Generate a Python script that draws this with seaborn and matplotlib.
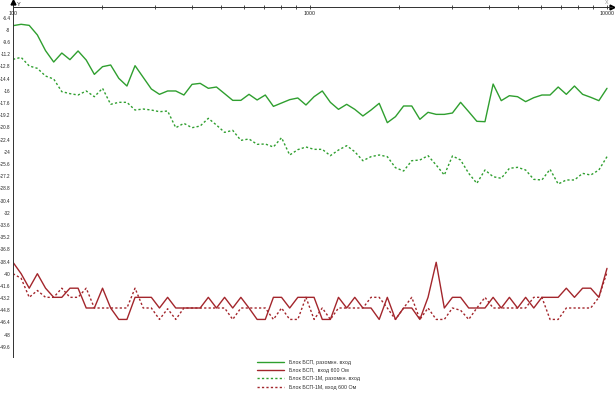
import numpy as np
import pandas as pd
import matplotlib
matplotlib.use('Agg')
import matplotlib.pyplot as plt
import seaborn as sns

# частоты, Гц
freq = [100, 106.5, 113.4, 120.8, 128.7, 137.1, 146.0, 155.5, 165.6, 176.4,
        187.9, 200.2, 213.2, 227.1, 241.9, 257.6, 274.4, 292.3, 311.3, 331.6,
        353.2, 376.2, 400.7, 426.8, 454.6, 484.2, 515.7, 549.3, 585.1, 623.2,
        663.7, 707.0, 753.0, 802.0, 854.3, 909.9, 969.2, 1032, 1100, 1171,
        1247, 1329, 1415, 1507, 1605, 1710, 1821, 1940, 2066, 2201,
        2344, 2497, 2660, 2833, 3017, 3214, 3423, 3646, 3883, 4136,
        4405, 4692, 4998, 5321, 5668, 6037, 6430, 6849, 7295, 7770,
        8276, 8815, 9389, 10000]

bsp_open = [-7.45, -7.27, -7.41, -8.67, -10.73, -12.22, -11.04, -11.91, -10.77, -11.96,
            -13.84, -12.83, -12.61, -14.36, -15.37, -12.70, -14.23, -15.76, -16.46, -16.02,
            -16.02, -16.55, -15.15, -15.02, -15.67, -15.50, -16.37, -17.25, -17.25, -16.46,
            -17.20, -16.55, -18.04, -17.60, -17.16, -16.94, -17.86, -16.77, -16.02, -17.51,
            -18.43, -17.77, -18.43, -19.30, -18.52, -17.64, -20.18, -19.39, -17.99, -17.99,
            -19.74, -18.82, -19.09, -19.09, -18.91, -17.51, -18.74, -20.00, -20.05, -15.11,
            -17.29, -16.64, -16.77, -17.42, -16.90, -16.55, -16.55, -15.50, -16.46, -15.37,
            -16.46, -16.85, -17.29, -15.67]

bsp_600 = [-38.5, -40.0, -41.9, -40.0, -41.9, -43.1, -43.1, -41.9, -41.9, -44.5,
           -44.5, -41.9, -44.5, -46.0, -46.0, -43.1, -43.1, -43.1, -44.5, -43.1,
           -44.5, -44.5, -44.5, -44.5, -43.1, -44.5, -43.1, -44.5, -43.1, -44.5,
           -46.0, -46.0, -43.1, -43.1, -44.5, -43.1, -43.1, -43.1, -46.0, -46.0,
           -43.1, -44.5, -43.1, -44.5, -44.5, -46.0, -43.1, -46.0, -44.5, -44.5,
           -46.0, -43.1, -38.5, -44.5, -43.1, -43.1, -44.5, -44.5, -44.5, -43.1,
           -44.5, -43.1, -44.5, -43.1, -44.5, -43.1, -43.1, -43.1, -41.9, -43.1,
           -41.9, -41.9, -43.1, -39.3]

bsp1m_open = [-11.87, -11.61, -12.74, -13.05, -14.06, -14.45, -16.11, -16.37, -16.55, -16.02,
              -16.77, -15.67, -17.77, -17.51, -17.51, -18.52, -18.39, -18.52, -18.74, -18.65,
              -20.84, -20.27, -20.84, -20.62, -19.61, -20.49, -21.45, -21.19, -22.50, -22.32,
              -23.02, -22.98, -23.37, -22.15, -24.42, -23.72, -23.37, -23.68, -23.68, -24.51,
              -23.77, -23.20, -23.99, -25.17, -24.64, -24.42, -24.64, -26.09, -26.52, -25.17,
              -25.08, -24.51, -25.74, -27.05, -24.55, -25.08, -26.83, -28.14, -26.39, -27.27,
              -27.48, -26.17, -26.04, -26.39, -27.62, -27.70, -26.30, -28.23, -27.70, -27.70,
              -26.83, -27.05, -26.39, -24.64]

bsp1m_600 = [-40.0, -40.6, -43.1, -42.2, -43.1, -43.1, -41.9, -43.1, -43.1, -41.9,
             -44.5, -44.5, -44.5, -44.5, -44.5, -41.9, -44.5, -44.5, -46.0, -44.6,
             -46.0, -44.5, -44.5, -44.5, -44.5, -44.5, -44.5, -46.0, -44.5, -44.5,
             -44.5, -44.5, -46.0, -44.5, -46.0, -46.0, -43.1, -46.0, -44.5, -46.0,
             -44.5, -44.5, -44.5, -44.5, -43.1, -43.1, -44.5, -46.0, -44.5, -43.1,
             -46.0, -44.5, -46.0, -46.0, -44.5, -44.8, -46.0, -44.5, -43.1, -44.5,
             -44.5, -44.5, -44.5, -44.5, -43.1, -43.1, -46.0, -46.0, -44.5, -44.5,
             -44.5, -44.5, -43.1, -39.8]

labels = ['Блок БСП, разомкн. вход', 'Блок БСП,  вход 600 Ом',
          'Блок БСП-1М, разомкн. вход', 'Блок БСП-1М, вход 600 Ом']

df = pd.DataFrame({'f': freq, labels[0]: bsp_open, labels[1]: bsp_600,
                   labels[2]: bsp1m_open, labels[3]: bsp1m_600})

sns.set_style('white')
plt.rcParams['font.family'] = ['Liberation Sans', 'DejaVu Sans']

W, H = 615, 393
fig = plt.figure(figsize=(W / 100, H / 100), dpi=100)
ax = fig.add_axes([13 / W, 1 - 357 / H, (612 - 13) / W, 350 / H])

green = '#2f9f2f'
red = '#a3262c'
dot = (0, (1.6, 1.6))
styles = [(green, '-'), (red, '-'), (green, dot), (red, dot)]
for lab, (c, ls) in zip(labels, styles):
    sns.lineplot(data=df, x='f', y=lab, ax=ax, color=c, linestyle=ls,
                 linewidth=1.0, label=lab)

ax.set_xscale('log')
ax.set_xlim(100, 10 ** (4 + 5 / 297))
ax.set_ylim(-50.93, -5.0)

axc = '#303030'
for s in ['bottom', 'right']:
    ax.spines[s].set_visible(False)
for s in ['top', 'left']:
    ax.spines[s].set_color(axc)
    ax.spines[s].set_linewidth(0.7)

yt = -6.4 - 1.6 * np.arange(28)
ax.set_yticks(yt)
ax.set_yticklabels([f'{round(t, 1):g}' for t in yt])
ax.set_xticks([100, 1000, 10000])
ax.set_xticklabels(['100', '1000', '10000'])
ax.tick_params(axis='y', direction='inout', length=3, width=0.6, color=axc,
               labelsize=3.3, pad=0.4, labelcolor='#202020')
ax.tick_params(axis='x', which='both', direction='inout', length=3, width=0.6,
               color=axc, top=True, bottom=False, labeltop=True,
               labelbottom=False, labelsize=3.8, pad=-8.0, labelcolor='#202020')
ax.tick_params(axis='x', which='minor', length=3)
ax.set_xlabel('')
ax.set_ylabel('')

# стрелки осей
ax.plot([0, 0], [1, 1 + 5 / 350], transform=ax.transAxes, color=axc,
        lw=0.7, clip_on=False)
ax.plot([0], [1 + 5 / 350], marker='^', ms=3.5, color='k',
        transform=ax.transAxes, clip_on=False)
ax.plot([1], [1], marker='>', ms=3.5, color='k',
        transform=ax.transAxes, clip_on=False)
fig.text(17 / W, 1 - 4 / H, 'Y', fontsize=4.0, va='center', color='#202020')
fig.text(607 / W, 1 - 2.5 / H, 'X', fontsize=3.8, va='center', ha='center',
         color='#909090')

ax.legend(loc='upper left', bbox_to_anchor=(257 / W, 1 - 360 / H),
          bbox_transform=fig.transFigure, frameon=False, fontsize=3.8,
          handlelength=5.2, handletextpad=0.8, labelspacing=0.6,
          borderpad=0, borderaxespad=0, labelcolor='#303030')

fig.savefig('out.png', dpi=100)
